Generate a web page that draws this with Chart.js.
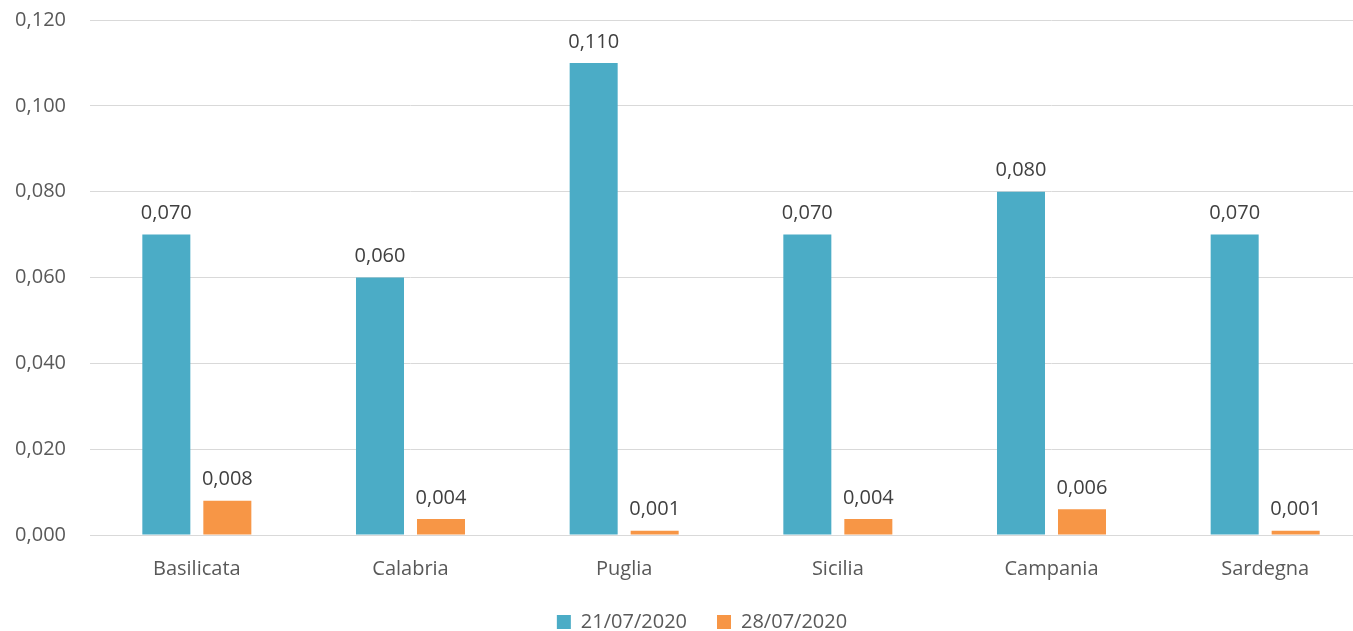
<!DOCTYPE html>
<html lang="it">

<head>
    <meta charset="UTF-8">
    <title>Confronto regioni</title>
    <style>
        html,
        body {
            margin: 0;
            padding: 0;
            overflow: hidden;
            background: #fff;
        }

        .chart-container {
            width: 1372px;
            height: 631px;
        }
    </style>
</head>

<body>
    <div class="chart-container">
        <canvas id="regionChart" width="1372" height="631"></canvas>
    </div>
</body>

<script src="https://cdn.jsdelivr.net/npm/chart.js@4.4.6/dist/chart.umd.min.js"></script>
<script>
    const regions = ['Basilicata', 'Calabria', 'Puglia', 'Sicilia', 'Campania', 'Sardegna'];
    const values2107 = [0.070, 0.060, 0.110, 0.070, 0.080, 0.070];
    const values2807 = [0.008, 0.0037, 0.001, 0.0037, 0.006, 0.001];
    const seriesLabels = ['21/07/2020', '28/07/2020'];

    const FONT = '"Open Sans", "DejaVu Sans", sans-serif';
    const fmt = (v) => (+v).toFixed(3).replace('.', ',');

    // value labels above each bar
    const barLabels = {
        id: 'barLabels',
        afterDatasetsDraw(chart) {
            const ctx = chart.ctx;
            ctx.save();
            ctx.font = '20px ' + FONT;
            ctx.fillStyle = '#404040';
            ctx.textAlign = 'center';
            ctx.textBaseline = 'bottom';
            chart.data.datasets.forEach((ds, i) => {
                chart.getDatasetMeta(i).data.forEach((bar, j) => {
                    ctx.fillText(fmt(ds.data[j]), bar.x, bar.y - 11);
                });
            });
            ctx.restore();
        }
    };

    // legend: fixed height, and moved a bit right (canvas is wider than the window)
    const legendShift = {
        id: 'legendShift',
        beforeLayout(chart) {
            const lg = chart.legend;
            if (lg && !lg._fixedFit) {
                const fit = lg.fit;
                lg.fit = function () {
                    fit.call(this);
                    this.height = 44;
                };
                lg._fixedFit = true;
            }
        },
        afterLayout(chart) {
            const lg = chart.legend;
            lg.left += 32;
            lg.top = 582;
        }
    };

    const chart = new Chart(document.getElementById('regionChart'), {
        type: 'bar',
        data: {
            labels: regions,
            datasets: [{
                label: seriesLabels[0],
                data: values2107,
                backgroundColor: '#4BACC6',
            }, {
                label: seriesLabels[1],
                data: values2807,
                backgroundColor: '#F79646',
            }]
        },
        options: {
            responsive: false,
            animation: false,
            datasets: {
                bar: { categoryPercentage: 0.571, barPercentage: 0.787 }
            },
            layout: { padding: { top: 20, right: 0, bottom: 0, left: 0 } },
            scales: {
                x: {
                    grid: { display: false },
                    border: { color: '#d9d9d9' },
                    ticks: { color: '#595959', font: { family: FONT, size: 20 }, padding: 14 },
                    afterFit: (s) => { s.height = 52; },
                },
                y: {
                    min: 0,
                    max: 0.12,
                    ticks: { stepSize: 0.02, color: '#595959', font: { family: FONT, size: 20 }, padding: 24, callback: fmt },
                    grid: { color: '#d9d9d9', drawTicks: false },
                    border: { display: false },
                    afterFit: (s) => {
                        s.width = 90;
                        s.paddingTop = 0;
                        s.paddingBottom = 0;
                    },
                }
            },
            plugins: {
                legend: {
                    position: 'bottom',
                    labels: {
                        boxWidth: 14,
                        boxHeight: 14,
                        padding: 30,
                        color: '#595959',
                        font: { family: FONT, size: 20 },
                    },
                },
                tooltip: { enabled: false },
            },
        },
        plugins: [barLabels, legendShift]
    });
</script>

</html>
